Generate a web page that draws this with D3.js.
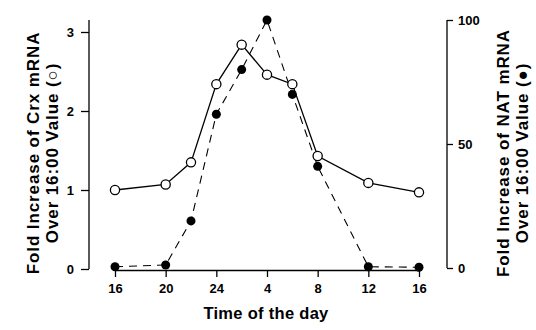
<!DOCTYPE html>
<html>
<head>
<meta charset="utf-8">
<script src="https://cdn.jsdelivr.net/npm/d3@7"></script>
<style>
  body { margin: 0; background: #fff; }
  svg { display: block; font-family: "Liberation Sans", Arial, sans-serif; font-weight: bold; }
</style>
</head>
<body>
<svg id="chart" width="536" height="330"></svg>
<script>
// hours since 16:00
const hours = [0, 4, 6, 8, 10, 12, 14, 16, 20, 24];
const crx = [1.0, 1.07, 1.35, 2.34, 2.84, 2.46, 2.34, 1.43, 1.09, 0.97];
const nat = [0.5, 1.2, 19, 62, 80, 100, 70, 41, 0.5, 0.3];
const xTicks = [0, 4, 8, 12, 16, 20, 24];
const xTickLabels = ["16", "20", "24", "4", "8", "12", "16"];
const leftTicks = [0, 1, 2, 3];
const rightTicks = [0, 50, 100];

const svg = d3.select("#chart");

const x = d3.scaleLinear().domain([0, 24]).range([115, 419]);
const yL = d3.scaleLinear().domain([0, 3]).range([269, 32]);
const yR = d3.scaleLinear().domain([0, 100]).range([268, 20]);

// left axis
const gL = svg.append("g").attr("transform", "translate(89,0)")
  .call(d3.axisLeft(yL).tickValues(leftTicks).tickSize(8).tickPadding(7).tickFormat(d3.format("d")));
gL.select(".domain").remove();
gL.append("line").attr("x1", 0).attr("x2", 0).attr("y1", yL(0)).attr("y2", 20)
  .attr("stroke", "#000").attr("stroke-width", 1.3);

// right axis
const gR = svg.append("g").attr("transform", "translate(447,0)")
  .call(d3.axisRight(yR).tickValues(rightTicks).tickSize(6).tickPadding(5).tickSizeOuter(0));
gR.select(".domain").remove();
gR.append("line").attr("x1", 0).attr("x2", 0).attr("y1", yR(0)).attr("y2", yR(100))
  .attr("stroke", "#000").attr("stroke-width", 1.3);

// bottom axis
const gB = svg.append("g").attr("transform", "translate(0,270)")
  .call(d3.axisBottom(x).tickValues(xTicks).tickSize(7).tickPadding(7)
    .tickFormat((d, i) => xTickLabels[i]).tickSizeOuter(0));
gB.select(".domain").attr("stroke-width", 1.3);

svg.selectAll(".tick line").attr("stroke", "#000").attr("stroke-width", 1.3);
svg.selectAll(".tick text").attr("fill", "#000")
  .style("font-size", "13px").style("font-weight", "bold")
  .style("font-family", "'Liberation Sans', Arial, sans-serif");

// lines
svg.append("path")
  .datum(hours.map((h, i) => [h, nat[i]]))
  .attr("fill", "none").attr("stroke", "#000").attr("stroke-width", 1.1)
  .attr("stroke-dasharray", "8,6")
  .attr("d", d3.line().x(d => x(d[0])).y(d => yR(d[1])));

svg.append("path")
  .datum(hours.map((h, i) => [h, crx[i]]))
  .attr("fill", "none").attr("stroke", "#000").attr("stroke-width", 1.3)
  .attr("d", d3.line().x(d => x(d[0])).y(d => yL(d[1])));

// points
svg.append("g").selectAll("circle")
  .data(hours.map((h, i) => [h, nat[i]]))
  .join("circle")
  .attr("cx", d => x(d[0])).attr("cy", d => yR(d[1])).attr("r", 4.5)
  .attr("fill", "#000");

svg.append("g").selectAll("circle")
  .data(hours.map((h, i) => [h, crx[i]]))
  .join("circle")
  .attr("cx", d => x(d[0])).attr("cy", d => yL(d[1])).attr("r", 4.6)
  .attr("fill", "#fff").attr("stroke", "#000").attr("stroke-width", 1.3);

// titles
svg.append("text")
  .attr("x", 266).attr("y", 319)
  .attr("text-anchor", "middle")
  .style("font-size", "16.5px").style("letter-spacing", "0.3px")
  .text("Time of the day");

const leftTitle = svg.append("text")
  .attr("transform", "translate(0,153) rotate(-90)")
  .attr("text-anchor", "middle")
  .style("font-size", "17px").style("letter-spacing", "0.9px");
leftTitle.append("tspan").attr("x", 0).attr("y", 39).text("Fold Increase of Crx mRNA");
leftTitle.append("tspan").attr("x", 0).attr("y", 58).text("Over 16:00 Value (\u25CB)");

const rightTitle = svg.append("text")
  .attr("transform", "translate(0,153) rotate(-90)")
  .attr("text-anchor", "middle")
  .style("font-size", "17px").style("letter-spacing", "0.9px");
rightTitle.append("tspan").attr("x", 0).attr("y", 509).text("Fold Increase of NAT mRNA");
rightTitle.append("tspan").attr("x", 0).attr("y", 528).text("Over 16:00 Value (\u25CF)");
</script>
</body>
</html>
